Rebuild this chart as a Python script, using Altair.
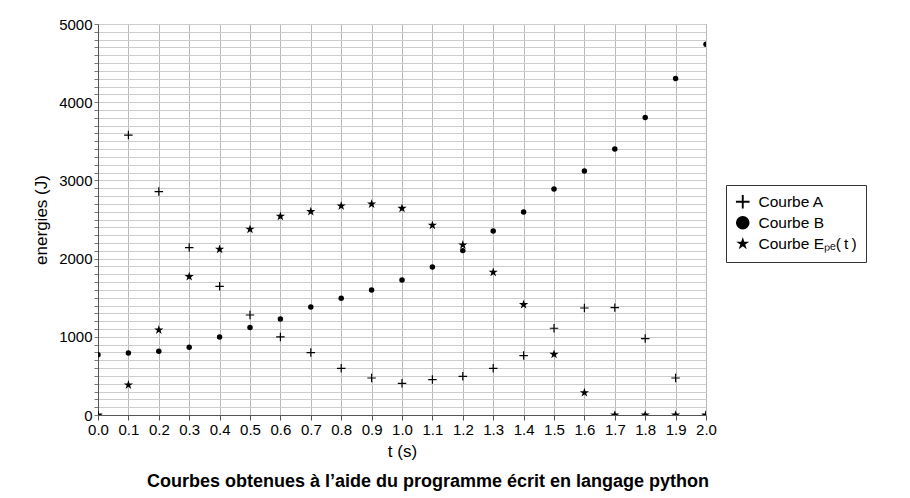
import altair as alt
import pandas as pd

# ---- data ----
t_values = [0.0, 0.1, 0.2, 0.3, 0.4, 0.5, 0.6, 0.7, 0.8, 0.9, 1.0,
            1.1, 1.2, 1.3, 1.4, 1.5, 1.6, 1.7, 1.8, 1.9, 2.0]
courbe_a = [0, 3580, 2857, 2141, 1646, 1279, 998, 798, 597, 473, 405,
            453, 495, 597, 760, 1109, 1368, 1373, 977, 473, 0]
courbe_b = [772, 793, 815, 866, 998, 1118, 1228, 1381, 1492, 1599, 1727,
            1893, 2102, 2353, 2596, 2890, 3120, 3402, 3803, 4302, 4740]
courbe_epe = [0, 384, 1087, 1770, 2119, 2375, 2541, 2601, 2673, 2698, 2643,
              2426, 2174, 1825, 1412, 776, 286, 0, 0, 0, 0]

series_names = ["Courbe A", "Courbe B", "Courbe E\u209a\u2091(\u2009t\u2009)"]
PLUS = "M-1,-0.14H-0.14V-1H0.14V-0.14H1V0.14H0.14V1H-0.14V0.14H-1Z"
STAR = ("M0,-1L0.2245,-0.309L0.9511,-0.309L0.3633,0.118L0.5878,0.809"
        "L0,0.382L-0.5878,0.809L-0.3633,0.118L-0.9511,-0.309L-0.2245,-0.309Z")
series_shapes = [PLUS, "circle", STAR]
series_sizes = [72, 30, 95]

x_ticks = [round(i * 0.1, 1) for i in range(21)]
y_ticks = list(range(0, 5001, 100))

FONT = "Liberation Sans"


def frame(name, vals):
    return pd.DataFrame({"t": t_values, "E": vals, "serie": [name] * len(vals)})


x_enc = alt.X("t:Q",
              scale=alt.Scale(domain=[0, 2], nice=False, zero=False),
              axis=alt.Axis(values=x_ticks, format=".1f", title="t (s)",
                            gridColor="#b8b8b8", gridWidth=1,
                            tickColor="#555", domainColor="#555",
                            tickSize=5, labelPadding=2, titlePadding=6,
                            labelFlush=False,
                            labelFontSize=15, titleFontSize=17,
                            labelFont=FONT, titleFont=FONT,
                            labelColor="black", titleColor="black",
                            titleFontWeight="normal", labelOverlap=False))
y_enc = alt.Y("E:Q",
              scale=alt.Scale(domain=[0, 5000], nice=False),
              axis=alt.Axis(values=y_ticks, format="d",
                            labelExpr="datum.value % 1000 === 0 ? datum.label : ''",
                            title="energies (J)",
                            gridColor="#cccccc", gridWidth=1,
                            tickColor="#777", domainColor="#555",
                            tickSize=4, labelPadding=2, titlePadding=8,
                            labelFlush=False,
                            labelFontSize=15, titleFontSize=17,
                            labelFont=FONT, titleFont=FONT,
                            labelColor="black", titleColor="black",
                            titleFontWeight="normal", labelOverlap=False))
shape_enc = alt.Shape("serie:N",
                      scale=alt.Scale(domain=series_names, range=series_shapes),
                      legend=alt.Legend(title=None, orient="none",
                                        legendX=628, legendY=161,
                                        strokeColor="#333", padding=9,
                                        labelFont=FONT, labelFontSize=15.5,
                                        labelColor="black",
                                        symbolSize=185, symbolStrokeWidth=0,
                                        symbolFillColor="black",
                                        labelOffset=8, rowPadding=4))

layers = []
for name, vals, size in zip(series_names, [courbe_a, courbe_b, courbe_epe], series_sizes):
    layers.append(
        alt.Chart(frame(name, vals)).mark_point(
            filled=True, clip=True, fill="black", strokeWidth=0,
            opacity=1, size=size
        ).encode(x=x_enc, y=y_enc, shape=shape_enc)
    )

chart = alt.layer(*layers).properties(
    width=608,
    height=391,
    padding={"left": 24, "top": 9, "right": 5, "bottom": 5},
    title=alt.TitleParams(
        text="Courbes obtenues \u00e0 l\u2019aide du programme \u00e9crit en langage python",
        orient="bottom", anchor="middle", fontSize=18, fontWeight="bold",
        font=FONT, color="black", dx=26, offset=14),
).configure_view(
    stroke="#888", strokeWidth=1
)

chart.save("out.html", embed_options={"renderer": "svg", "actions": False})
